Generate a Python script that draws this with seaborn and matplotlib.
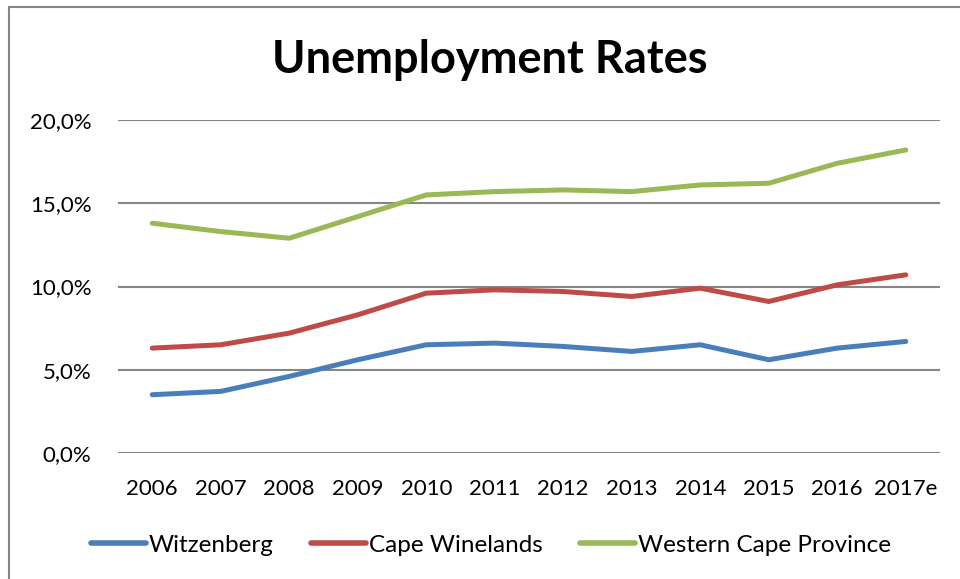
import matplotlib
matplotlib.use("Agg")
import matplotlib.pyplot as plt
import seaborn as sns
import pandas as pd
from matplotlib.patches import Rectangle
from matplotlib.ticker import FuncFormatter

years = ["2006", "2007", "2008", "2009", "2010", "2011", "2012", "2013", "2014", "2015", "2016", "2017e"]
witzenberg = [3.5, 3.7, 4.6, 5.6, 6.5, 6.6, 6.4, 6.1, 6.5, 5.6, 6.3, 6.7]
cape_winelands = [6.3, 6.5, 7.2, 8.3, 9.6, 9.8, 9.7, 9.4, 9.9, 9.1, 10.1, 10.7]
western_cape = [13.8, 13.3, 12.9, 14.2, 15.5, 15.7, 15.8, 15.7, 16.1, 16.2, 17.4, 18.2]
series_names = ["Witzenberg", "Cape Winelands", "Western Cape Province"]
colors = ["#4A7EBB", "#BE4B48", "#98B954"]

rows = []
for name, vals in zip(series_names, [witzenberg, cape_winelands, western_cape]):
    for i, (y, v) in enumerate(zip(years, vals)):
        rows.append({"idx": i, "year": y, "series": name, "rate": v})
df = pd.DataFrame(rows)

sns.set_style("white")
plt.rcParams["font.family"] = ["Lato", "DejaVu Sans"]
plt.rcParams["text.color"] = "black"

fig = plt.figure(figsize=(9.6, 5.79), dpi=100)
ax = fig.add_axes([118 / 960, 1 - 453 / 579, (940 - 118) / 960, (453 - 120) / 579])

sns.lineplot(data=df, x="idx", y="rate", hue="series", hue_order=series_names,
             palette=colors, linewidth=3.6, ax=ax, legend=True, sort=False)

ax.set_xlim(-0.5, len(years) - 0.5)
ax.set_ylim(0, 20)
ax.set_yticks([0, 5, 10, 15, 20])
ax.yaxis.set_major_formatter(FuncFormatter(lambda v, p: f"{v:.1f}%".replace(".", ",")))
ax.set_xticks(range(len(years)))
ax.set_xticklabels(years)
ax.grid(axis="y", color="#868686", linewidth=1.5)
ax.set_axisbelow(True)
for s in ax.spines.values():
    s.set_visible(False)
ax.tick_params(axis="both", length=0, labelsize=16, colors="black")
ax.tick_params(axis="y", pad=19)
ax.tick_params(axis="x", pad=19)
ax.set_xlabel("")
ax.set_ylabel("")

handles, labels = ax.get_legend_handles_labels()
ax.get_legend().remove()
for h in handles:
    h.set_linewidth(4)
fig.legend(handles, labels, loc="center", bbox_to_anchor=(491 / 960, 1 - 545 / 579),
           ncol=3, frameon=False, fontsize=17.5, handlelength=2.25, handletextpad=0.12,
           columnspacing=1.55, labelcolor="black")

fig.text(490 / 960, 1 - 60 / 579, "Unemployment Rates", ha="center", va="center",
         fontsize=32.5, fontweight="bold", color="black")

fig.patches.append(Rectangle((9 / 960, -0.1), 1.2, 1 - 7 / 579 + 0.1, transform=fig.transFigure,
                             fill=False, edgecolor="#868686", linewidth=1.5, figure=fig))

fig.savefig("out.png", dpi=100)
